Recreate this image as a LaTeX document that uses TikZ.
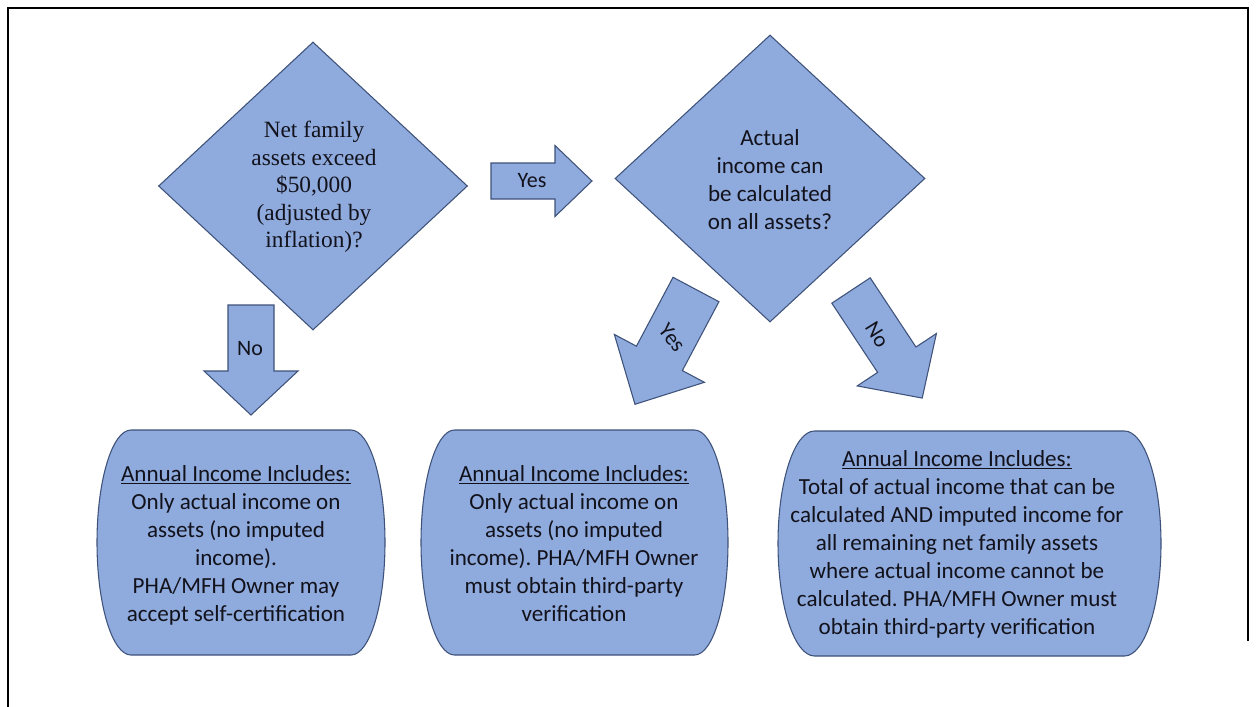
\documentclass[tikz,border=0pt]{standalone}
\usepackage{fontspec}
\setmainfont{Carlito}
\newfontfamily\timesf{Liberation Serif}
\usetikzlibrary{shapes.geometric}
\frenchspacing
\definecolor{shapefill}{RGB}{143,170,220}
\definecolor{shapeline}{RGB}{62,82,122}
\definecolor{txtcol}{RGB}{18,18,28}
\tikzset{
  shapesty/.style={fill=shapefill, draw=shapeline, line width=0.8pt, line join=miter},
  diasty/.style={diamond, shapesty, inner sep=0pt},
  calitext/.style={align=center, text=txtcol, inner sep=0pt, font=\fontsize{17.3}{21}\selectfont},
  serftext/.style={align=center, text=txtcol, inner sep=0pt, font=\timesf\fontsize{17.5}{20.6}\selectfont},
  arrlabel/.style={text=txtcol, inner sep=0pt, font=\fontsize{16.5}{19}\selectfont},
}
% block arrow: base centre (#1,#2), direction #3, length #4, body width #5, head width #6, head length #7
\newcommand\blockarr[8]{%
  \begin{scope}[shift={(#1,#2)}, rotate=#3]
    \coordinate (#8) at (0,0);
    \draw[shapesty] (0,-#5/2) -- ({#4-#7},-#5/2) -- ({#4-#7},-#6/2) -- (#4,0)
      -- ({#4-#7},#6/2) -- ({#4-#7},#5/2) -- (0,#5/2) -- cycle;
  \end{scope}}
% rounded box: centre (#1,#2), flat half width #3, side bulge #4, half height #5
\newcommand\roundbox[6]{%
  \coordinate (#6) at (#1,#2);
  \draw[shapesty] ({#1-#3},{#2-#5}) -- ({#1+#3},{#2-#5})
    .. controls ({#1+#3+0.552*#4},{#2-#5}) and ({#1+#3+#4},{#2-0.552*#5}) .. ({#1+#3+#4},#2)
    .. controls ({#1+#3+#4},{#2+0.552*#5}) and ({#1+#3+0.552*#4},{#2+#5}) .. ({#1+#3},{#2+#5})
    -- ({#1-#3},{#2+#5})
    .. controls ({#1-#3-0.552*#4},{#2+#5}) and ({#1-#3-#4},{#2+0.552*#5}) .. ({#1-#3-#4},#2)
    .. controls ({#1-#3-#4},{#2-0.552*#5}) and ({#1-#3-0.552*#4},{#2-#5}) .. cycle;}
\begin{document}
\begin{tikzpicture}[x=0.75pt,y=-0.75pt]
\useasboundingbox (0,0) rectangle (1257,707);
\coordinate (fa) at (8,707);
\coordinate (fb) at (8,8);
\coordinate (fc) at (1248,8);
\coordinate (fd) at (1248,640);
\draw[line width=1.6pt, line cap=rect] (fa) -- (fb) -- (fc) -- (fd);

% diamonds
\node[diasty, minimum width=231.75pt, minimum height=216pt] (d1) at (313,186) {};
\node[serftext] (d1t) at (314,187) {Net family\\assets exceed\\\$50,000\\(adjusted by\\inflation)?};
\node[diasty, minimum width=232.5pt, minimum height=215.25pt] (d2) at (770,178.5) {};
\node[calitext] (d2t) at (770,180) {Actual\\income can\\be calculated\\on all assets?};

% block arrows
\blockarr{491}{181}{0}{101}{36}{71}{37}{a1}
\node[arrlabel] (a1t) at (532,181) {Yes};
\blockarr{251}{305}{-90}{110}{46}{94}{44}{a2}
\node[arrlabel] (a2t) at (250,349) {No};
\blockarr{696}{289.5}{-118}{130}{52}{102}{52}{a3}
\node[arrlabel, rotate=-52] (a3t) at (672,338) {Yes};
\blockarr{851}{290.5}{-56.5}{129}{46}{95}{46}{a4}
\node[arrlabel, rotate=-58] (a4t) at (877,335) {No};

% result boxes
\roundbox{241}{542.5}{110}{34}{112.5}{b1}
\node[calitext] (b1t) at (236,545) {\underline{Annual Income Includes:}\\Only actual income on\\assets (no imputed\\income).\\PHA/MFH Owner may\\accept self-certification};
\roundbox{574.5}{542.5}{120}{33.5}{112.5}{b2}
\node[calitext] (b2t) at (574,543.5) {\underline{Annual Income Includes:}\\Only actual income on\\assets (no imputed\\income). PHA/MFH Owner\\must obtain third-party\\verification};
\roundbox{969.5}{543.5}{155}{36.5}{112.5}{b3}
\node[calitext] (b3t) at (957,544) {\underline{Annual Income Includes:}\\Total of actual income that can be\\calculated AND imputed income for\\all remaining net family assets\\where actual income cannot be\\calculated. PHA/MFH Owner must\\obtain third-party verification};
\end{tikzpicture}
\end{document}
